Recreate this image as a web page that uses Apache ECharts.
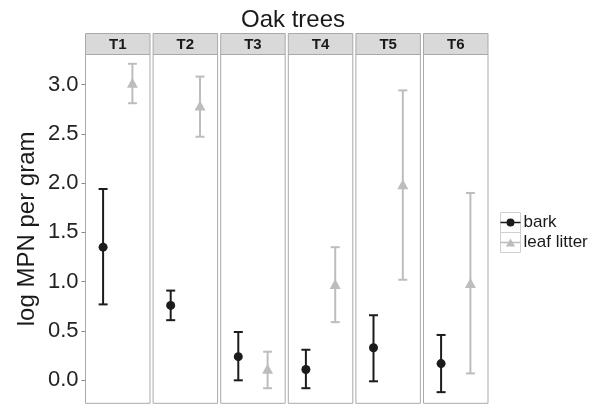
<!DOCTYPE html>
<html>
<head>
<meta charset="utf-8">
<script src="https://cdn.jsdelivr.net/npm/echarts@6/dist/echarts.min.js"></script>
<style>
html,body{margin:0;padding:0;background:#fff;}
#chart{width:597px;height:405px;}
</style>
</head>
<body>
<div id="chart"></div>
<script>
// ---- data ----
const panels = ['T1', 'T2', 'T3', 'T4', 'T5', 'T6'];
const groups = ['bark', 'leaf litter'];
const barkMean = [1.35, 0.76, 0.24, 0.11, 0.33, 0.17];
const barkLow  = [0.77, 0.61, 0.00, -0.08, -0.01, -0.12];
const barkHigh = [1.94, 0.91, 0.49, 0.31, 0.66, 0.46];
const leafMean = [3.00, 2.77, 0.10, 0.96, 1.97, 0.97];
const leafLow  = [2.81, 2.47, -0.08, 0.59, 1.02, 0.07];
const leafHigh = [3.21, 3.08, 0.29, 1.35, 2.94, 1.90];
const yTicks = [0, 0.5, 1.0, 1.5, 2.0, 2.5, 3.0];

// ---- layout / style ----
const BARK = '#1c1c1c', LEAF = '#bdbdbd';
const P_LEFT = 85.5, P_PITCH = 67.6, P_W = 64.5, P_TOP = 54.5, P_H = 348.8;
const STRIP_TOP = 33.5;
const Y_MIN = -0.233, Y_MAX = 3.304;

const chart = echarts.init(document.getElementById('chart'), null, {renderer: 'canvas'});

const grids = [], xAxes = [], yAxes = [], series = [], graphics = [];

function errRender(color) {
  return function (params, api) {
    const x = api.value(0);
    const lo = api.coord([x, api.value(1)]);
    const hi = api.coord([x, api.value(2)]);
    const w = 4.5;
    const st = {stroke: color, lineWidth: 2, lineCap: 'butt'};
    return {
      type: 'group',
      children: [
        {type: 'line', shape: {x1: lo[0], y1: lo[1], x2: hi[0], y2: hi[1]}, style: st},
        {type: 'line', shape: {x1: hi[0] - w, y1: hi[1], x2: hi[0] + w, y2: hi[1]}, style: st},
        {type: 'line', shape: {x1: lo[0] - w, y1: lo[1], x2: lo[0] + w, y2: lo[1]}, style: st}
      ]
    };
  };
}

panels.forEach((p, i) => {
  const left = P_LEFT + i * P_PITCH;
  grids.push({
    left: left, top: P_TOP, width: P_W, height: P_H,
    show: true, borderColor: '#a9a9a9', borderWidth: 1, backgroundColor: '#fff',
    containLabel: false
  });
  xAxes.push({type: 'value', gridIndex: i, min: 0.4, max: 2.6, show: false});
  yAxes.push({
    type: 'value', gridIndex: i, min: Y_MIN, max: Y_MAX,
    show: i === 0,
    name: i === 0 ? 'log MPN per gram' : '',
    nameLocation: 'middle', nameGap: 46, nameRotate: 90,
    nameTextStyle: {fontSize: 24, color: '#1a1a1a', fontFamily: 'Liberation Sans'},
    axisLine: {show: false},
    axisTick: {show: i === 0, length: 4, lineStyle: {color: '#888'}, customValues: yTicks},
    axisLabel: {
      show: i === 0, fontSize: 22, color: '#222', margin: 7, fontFamily: 'Liberation Sans',
      customValues: yTicks,
      formatter: v => Number(v).toFixed(1)
    },
    splitLine: {show: false}
  });
  // strip
  graphics.push({
    type: 'rect', z: 10,
    shape: {x: left, y: STRIP_TOP, width: P_W, height: P_TOP - STRIP_TOP},
    style: {fill: '#d9d9d9', stroke: '#a9a9a9', lineWidth: 1}
  });
  graphics.push({
    type: 'text', z: 11, x: left + P_W / 2, y: (STRIP_TOP + P_TOP) / 2 + 1,
    style: {text: p, fontSize: 15, fontWeight: 'bold', fill: '#1a1a1a',
            align: 'center', verticalAlign: 'middle', fontFamily: 'Liberation Sans'}
  });
});

// scatter points first (legend visuals come from them)
panels.forEach((p, i) => {
  series.push({
    name: groups[0], type: 'scatter', xAxisIndex: i, yAxisIndex: i, z: 5,
    symbol: 'circle', symbolSize: 9, itemStyle: {color: BARK, opacity: 1},
    data: [[1, barkMean[i]]], silent: true
  });
  series.push({
    name: groups[1], type: 'scatter', xAxisIndex: i, yAxisIndex: i, z: 5,
    symbol: 'triangle', symbolSize: [11, 10], symbolOffset: [0, -1.7],
    itemStyle: {color: LEAF, opacity: 1},
    data: [[2, leafMean[i]]], silent: true
  });
});
panels.forEach((p, i) => {
  series.push({
    name: groups[0], type: 'custom', xAxisIndex: i, yAxisIndex: i, z: 3, clip: false,
    renderItem: errRender(BARK), itemStyle: {color: BARK},
    encode: {x: 0, y: [1, 2]},
    data: [[1, barkLow[i], barkHigh[i]]], silent: true
  });
  series.push({
    name: groups[1], type: 'custom', xAxisIndex: i, yAxisIndex: i, z: 3, clip: false,
    renderItem: errRender(LEAF), itemStyle: {color: LEAF},
    encode: {x: 0, y: [1, 2]},
    data: [[2, leafLow[i], leafHigh[i]]], silent: true
  });
});

// legend key boxes
[0, 1].forEach(k => {
  graphics.push({
    type: 'rect', z: 1,
    shape: {x: 500.5, y: 212.5 + k * 20, width: 20, height: 20},
    style: {fill: '#fff', stroke: '#d0d0d0', lineWidth: 1}
  });
});

const option = {
  animation: false,
  backgroundColor: '#fff',
  title: {
    text: 'Oak trees', left: 236, top: 3,
    textStyle: {fontSize: 24, fontWeight: 'normal', color: '#1a1a1a', fontFamily: 'Liberation Sans'}
  },
  legend: {
    orient: 'vertical', left: 500.5, top: 214, padding: 0,
    itemWidth: 20, itemHeight: 8, itemGap: 3,
    textStyle: {fontSize: 17, color: '#1a1a1a', fontFamily: 'Liberation Sans', padding: [0, 0, 0, -2]},
    itemStyle: {borderWidth: 0, opacity: 1},
    data: [
      {name: groups[0], icon: 'path://M0,3.2H20V4.8H0Z M10,0A4,4 0 1,1 9.99,0Z'},
      {name: groups[1], icon: 'path://M0,3.3H20V4.7H0Z M10,0L14.6,8H5.4Z'}
    ],
    selectedMode: false
  },
  grid: grids,
  xAxis: xAxes,
  yAxis: yAxes,
  series: series,
  graphic: graphics
};
chart.setOption(option);
</script>
</body>
</html>
